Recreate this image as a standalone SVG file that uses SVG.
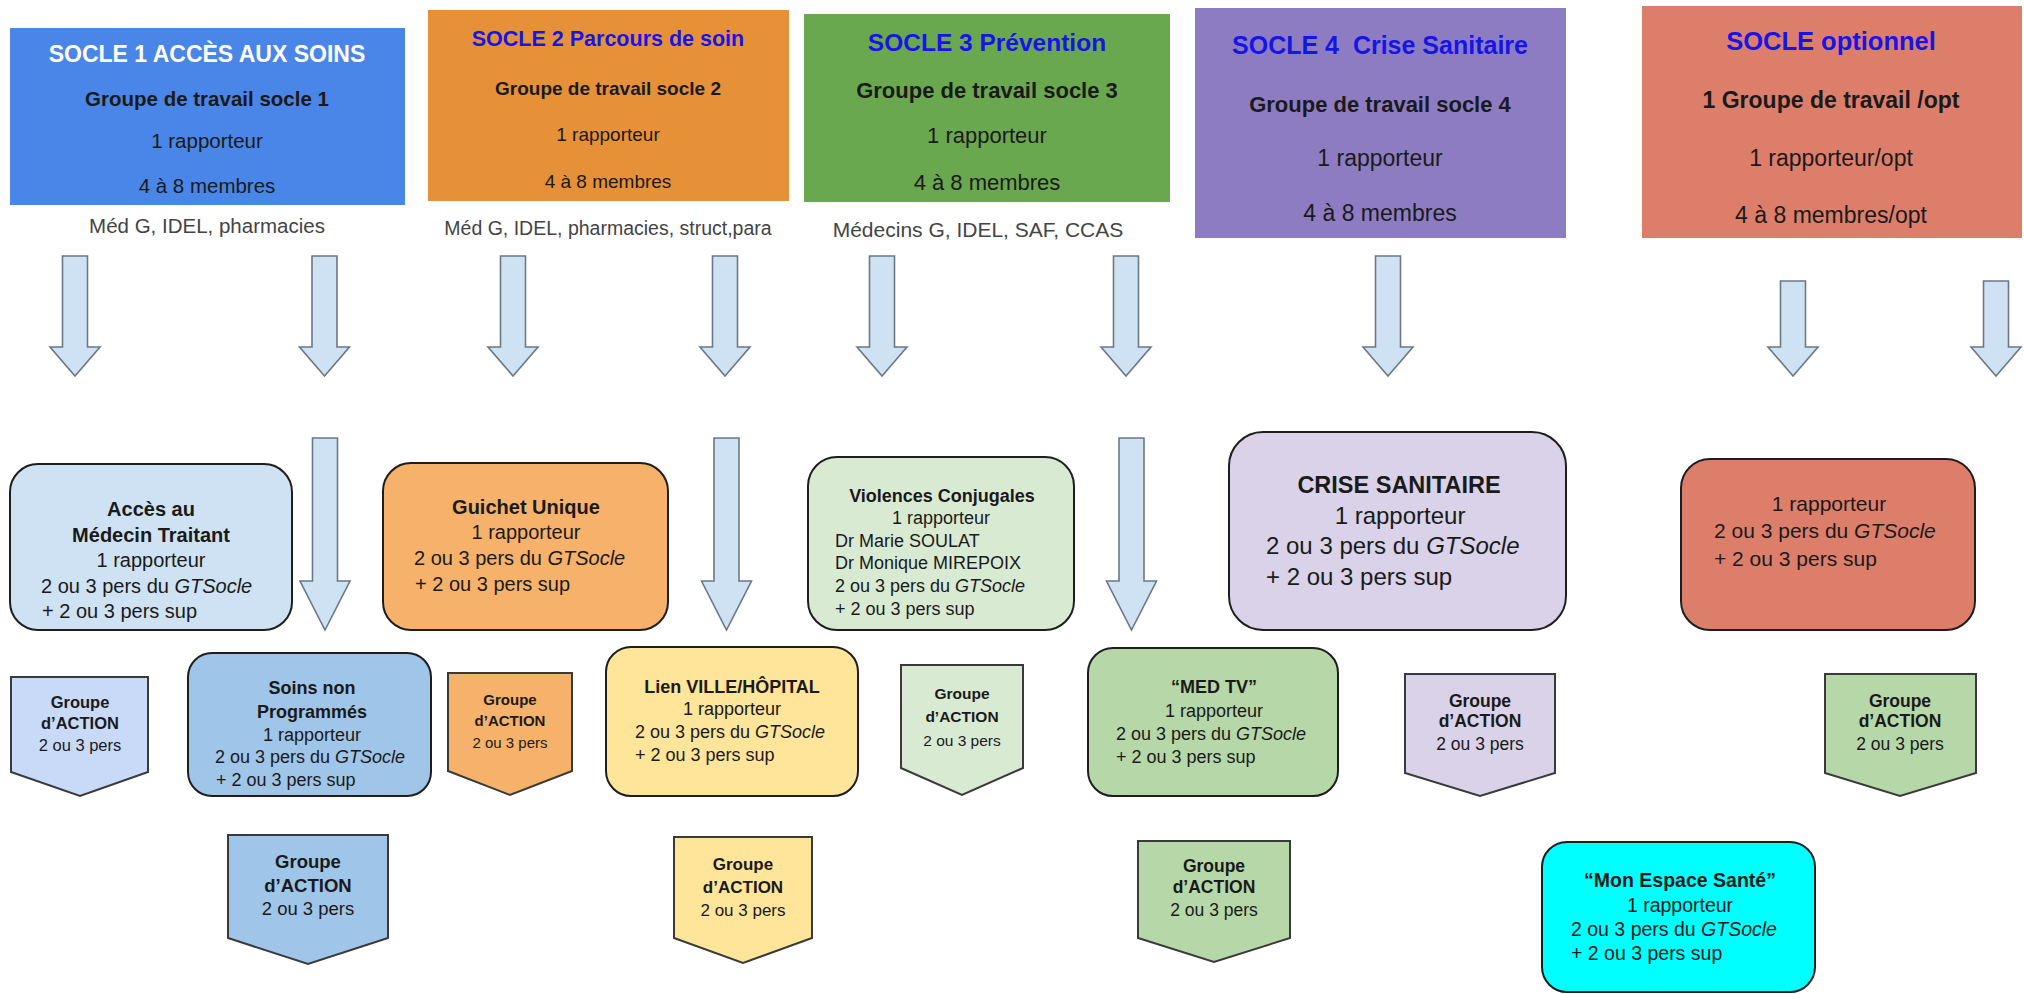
<svg xmlns="http://www.w3.org/2000/svg" width="2024" height="994" viewBox="0 0 2024 994">
<style>
text{font-family:"Liberation Sans",Arial,Helvetica,sans-serif;fill:#1a1a1a}
.c{text-anchor:middle}
.b{font-weight:bold}
.i{font-style:italic}
.ttl{font-weight:bold;fill:#1515e6;text-anchor:middle}
.sub{fill:#444;text-anchor:middle}
.arr{fill:#cfe2f3;stroke:#6b7886;stroke-width:1.6}
.rb{stroke:#1e1e1e;stroke-width:2}
.pg{stroke:#3a3a3a;stroke-width:2}
</style>
<rect width="2024" height="994" fill="#ffffff"/>

<g id="connectors">
<path class="arr" d="M62.5,256H87.5V347H100L75,376L50,347H62.5Z"/>
<path class="arr" d="M312,256H337V347H349.5L324.5,376L299.5,347H312Z"/>
<path class="arr" d="M500.5,256H525.5V347H538L513,376L488,347H500.5Z"/>
<path class="arr" d="M712.5,256H737.5V347H750L725,376L700,347H712.5Z"/>
<path class="arr" d="M869.5,256H894.5V347H907L882,376L857,347H869.5Z"/>
<path class="arr" d="M1113.5,256H1138.5V347H1151L1126,376L1101,347H1113.5Z"/>
<path class="arr" d="M1375.5,256H1400.5V347H1413L1388,376L1363,347H1375.5Z"/>
<path class="arr" d="M1780.5,281H1805.5V347H1818L1793,376L1768,347H1780.5Z"/>
<path class="arr" d="M1983.5,281H2008.5V347H2021L1996,376L1971,347H1983.5Z"/>
<path class="arr" d="M312.5,438H337.5V581H350L325,630L300,581H312.5Z"/>
<path class="arr" d="M714,438H739V581H751.5L726.5,630L701.5,581H714Z"/>
<path class="arr" d="M1119,438H1144V581H1156.5L1131.5,630L1106.5,581H1119Z"/>
</g>

<g id="socle1">
<rect x="10" y="28" width="395" height="177" fill="#4a86e8"/>
<text x="207" y="62" class="c b" font-size="23" style="fill:#ffffff">SOCLE 1 ACCÈS AUX SOINS</text>
<text x="207" y="106" class="c b" font-size="20.5">Groupe de travail socle 1</text>
<text x="207" y="148" class="c" font-size="20.5">1 rapporteur</text>
<text x="207" y="193" class="c" font-size="20.5">4 à 8 membres</text>
<text x="207" y="233" class="sub" font-size="20.5">Méd G, IDEL, pharmacies</text>
</g>

<g id="socle2">
<rect x="428" y="10" width="361" height="191" fill="#e69138"/>
<text x="608" y="46" class="ttl" font-size="21.5">SOCLE 2 Parcours de soin</text>
<text x="608" y="95" class="c b" font-size="19">Groupe de travail socle 2</text>
<text x="608" y="141" class="c" font-size="19">1 rapporteur</text>
<text x="608" y="188" class="c" font-size="19">4 à 8 membres</text>
<text x="608" y="235" class="sub" font-size="19.5">Méd G, IDEL, pharmacies, struct,para</text>
</g>

<g id="socle3">
<rect x="804" y="14" width="366" height="188" fill="#6aa84f"/>
<text x="987" y="51" class="ttl" font-size="24.5">SOCLE 3 Prévention</text>
<text x="987" y="98" class="c b" font-size="22">Groupe de travail socle 3</text>
<text x="987" y="143" class="c" font-size="22">1 rapporteur</text>
<text x="987" y="190" class="c" font-size="22">4 à 8 membres</text>
<text x="978" y="237" class="sub" font-size="21">Médecins G, IDEL, SAF, CCAS</text>
</g>

<g id="socle4">
<rect x="1195" y="8" width="371" height="230" fill="#8e7cc3"/>
<text x="1380" y="54" class="ttl" font-size="25" xml:space="preserve">SOCLE 4  Crise Sanitaire</text>
<text x="1380" y="112" class="c b" font-size="22">Groupe de travail socle 4</text>
<text x="1380" y="166" class="c" font-size="23">1 rapporteur</text>
<text x="1380" y="221" class="c" font-size="23">4 à 8 membres</text>
</g>

<g id="socle-opt">
<rect x="1642" y="6" width="380" height="232" fill="#dd7e6b"/>
<text x="1831" y="50" class="ttl" font-size="25.5">SOCLE optionnel</text>
<text x="1831" y="108" class="c b" font-size="23">1 Groupe de travail /opt</text>
<text x="1831" y="166" class="c" font-size="23">1 rapporteur/opt</text>
<text x="1831" y="223" class="c" font-size="23">4 à 8 membres/opt</text>
</g>

<g id="acces-medecin">
<rect class="rb" x="10" y="464" width="282" height="166" rx="28" fill="#cfe2f3"/>
<text x="151" y="516" class="c b" font-size="20">Accès au</text>
<text x="151" y="542" class="c b" font-size="20">Médecin Traitant</text>
<text x="151" y="567" class="c" font-size="20">1 rapporteur</text>
<text x="41" y="593" font-size="20">2 ou 3 pers du <tspan class="i">GTSocle</tspan></text>
<text x="42" y="618" font-size="20">+ 2 ou 3 pers sup</text>
</g>

<g id="guichet-unique">
<rect class="rb" x="383" y="463" width="285" height="167" rx="28" fill="#f6b26b"/>
<text x="526" y="514" class="c b" font-size="20">Guichet Unique</text>
<text x="526" y="539" class="c" font-size="20">1 rapporteur</text>
<text x="414" y="565" font-size="20">2 ou 3 pers du <tspan class="i">GTSocle</tspan></text>
<text x="415" y="591" font-size="20">+ 2 ou 3 pers sup</text>
</g>

<g id="violences-conjugales">
<rect class="rb" x="808" y="457" width="266" height="173" rx="29" fill="#d9ead3"/>
<text x="942" y="502" class="c b" font-size="18">Violences Conjugales</text>
<text x="941" y="524" class="c" font-size="18">1 rapporteur</text>
<text x="835" y="547" font-size="18">Dr Marie SOULAT</text>
<text x="835" y="569" font-size="18">Dr Monique MIREPOIX</text>
<text x="835" y="592" font-size="18">2 ou 3 pers du <tspan class="i">GTSocle</tspan></text>
<text x="835" y="615" font-size="18">+ 2 ou 3 pers sup</text>
</g>

<g id="crise-sanitaire">
<rect class="rb" x="1229" y="432" width="337" height="198" rx="34" fill="#d9d2e9"/>
<text x="1399" y="493" class="c b" font-size="23.5">CRISE SANITAIRE</text>
<text x="1400" y="524" class="c" font-size="24">1 rapporteur</text>
<text x="1266" y="554" font-size="24">2 ou 3 pers du <tspan class="i">GTSocle</tspan></text>
<text x="1266" y="585" font-size="24">+ 2 ou 3 pers sup</text>
</g>

<g id="optionnel-groupe">
<rect class="rb" x="1681" y="459" width="294" height="171" rx="29" fill="#dd7e6b"/>
<text x="1829" y="511" class="c" font-size="21">1 rapporteur</text>
<text x="1714" y="538" font-size="21">2 ou 3 pers du <tspan class="i">GTSocle</tspan></text>
<text x="1714" y="566" font-size="21">+ 2 ou 3 pers sup</text>
</g>

<g id="action-acces">
<path class="pg" d="M11,677H148V772L80,796L11,772Z" fill="#c9daf8"/>
<text x="80" y="708" class="c b" font-size="16.5">Groupe</text>
<text x="80" y="729" class="c b" font-size="16.5">d’ACTION</text>
<text x="80" y="751" class="c" font-size="16.5">2 ou 3 pers</text>
</g>

<g id="soins-non-programmes">
<rect class="rb" x="188" y="653" width="243" height="143" rx="24" fill="#9fc5e8"/>
<text x="312" y="694" class="c b" font-size="18">Soins non</text>
<text x="312" y="718" class="c b" font-size="18">Programmés</text>
<text x="312" y="741" class="c" font-size="18">1 rapporteur</text>
<text x="215" y="763" font-size="18">2 ou 3 pers du <tspan class="i">GTSocle</tspan></text>
<text x="216" y="786" font-size="18">+ 2 ou 3 pers sup</text>
</g>

<g id="action-guichet">
<path class="pg" d="M448,673H572V771L510,795L448,771Z" fill="#f6b26b"/>
<text x="510" y="705" class="c b" font-size="15">Groupe</text>
<text x="510" y="726" class="c b" font-size="15">d’ACTION</text>
<text x="510" y="748" class="c" font-size="15">2 ou 3 pers</text>
</g>

<g id="lien-ville-hopital">
<rect class="rb" x="606" y="647" width="252" height="149" rx="25" fill="#ffe599"/>
<text x="732" y="693" class="c b" font-size="18">Lien VILLE/HÔPITAL</text>
<text x="732" y="715" class="c" font-size="18">1 rapporteur</text>
<text x="635" y="738" font-size="18">2 ou 3 pers du <tspan class="i">GTSocle</tspan></text>
<text x="635" y="761" font-size="18">+ 2 ou 3 pers sup</text>
</g>

<g id="action-violences">
<path class="pg" d="M901,665H1023V768L962,795L901,768Z" fill="#d9ead3"/>
<text x="962" y="699" class="c b" font-size="15.5">Groupe</text>
<text x="962" y="722" class="c b" font-size="15.5">d’ACTION</text>
<text x="962" y="746" class="c" font-size="15.5">2 ou 3 pers</text>
</g>

<g id="med-tv">
<rect class="rb" x="1088" y="648" width="250" height="148" rx="25" fill="#b6d7a8"/>
<text x="1214" y="693" class="c b" font-size="18">“MED TV”</text>
<text x="1214" y="717" class="c" font-size="18">1 rapporteur</text>
<text x="1116" y="740" font-size="18">2 ou 3 pers du <tspan class="i">GTSocle</tspan></text>
<text x="1116" y="763" font-size="18">+ 2 ou 3 pers sup</text>
</g>

<g id="action-crise">
<path class="pg" d="M1405,674H1555V773L1480,796L1405,773Z" fill="#d9d2e9"/>
<text x="1480" y="707" class="c b" font-size="17.5">Groupe</text>
<text x="1480" y="727" class="c b" font-size="17.5">d’ACTION</text>
<text x="1480" y="750" class="c" font-size="17.5">2 ou 3 pers</text>
</g>

<g id="action-optionnel">
<path class="pg" d="M1825,674H1976V773L1900,796L1825,773Z" fill="#b6d7a8"/>
<text x="1900" y="707" class="c b" font-size="17.5">Groupe</text>
<text x="1900" y="727" class="c b" font-size="17.5">d’ACTION</text>
<text x="1900" y="750" class="c" font-size="17.5">2 ou 3 pers</text>
</g>

<g id="action-soins">
<path class="pg" d="M228,835H388V938L308,964L228,938Z" fill="#9fc5e8"/>
<text x="308" y="868" class="c b" font-size="18.5">Groupe</text>
<text x="308" y="892" class="c b" font-size="18.5">d’ACTION</text>
<text x="308" y="915" class="c" font-size="18.5">2 ou 3 pers</text>
</g>

<g id="action-lien">
<path class="pg" d="M674,837H812V938L743,963L674,938Z" fill="#ffe599"/>
<text x="743" y="870" class="c b" font-size="17">Groupe</text>
<text x="743" y="893" class="c b" font-size="17">d’ACTION</text>
<text x="743" y="916" class="c" font-size="17">2 ou 3 pers</text>
</g>

<g id="action-medtv">
<path class="pg" d="M1138,841H1290V938L1214,962L1138,938Z" fill="#b6d7a8"/>
<text x="1214" y="872" class="c b" font-size="17.5">Groupe</text>
<text x="1214" y="893" class="c b" font-size="17.5">d’ACTION</text>
<text x="1214" y="916" class="c" font-size="17.5">2 ou 3 pers</text>
</g>

<g id="mon-espace-sante">
<rect class="rb" x="1542" y="842" width="273" height="150" rx="25" fill="#00ffff"/>
<text x="1680" y="887" class="c b" font-size="19.5">“Mon Espace Santé”</text>
<text x="1680" y="912" class="c" font-size="19.5">1 rapporteur</text>
<text x="1571" y="936" font-size="19.5">2 ou 3 pers du <tspan class="i">GTSocle</tspan></text>
<text x="1571" y="960" font-size="19.5">+ 2 ou 3 pers sup</text>
</g>
</svg>
